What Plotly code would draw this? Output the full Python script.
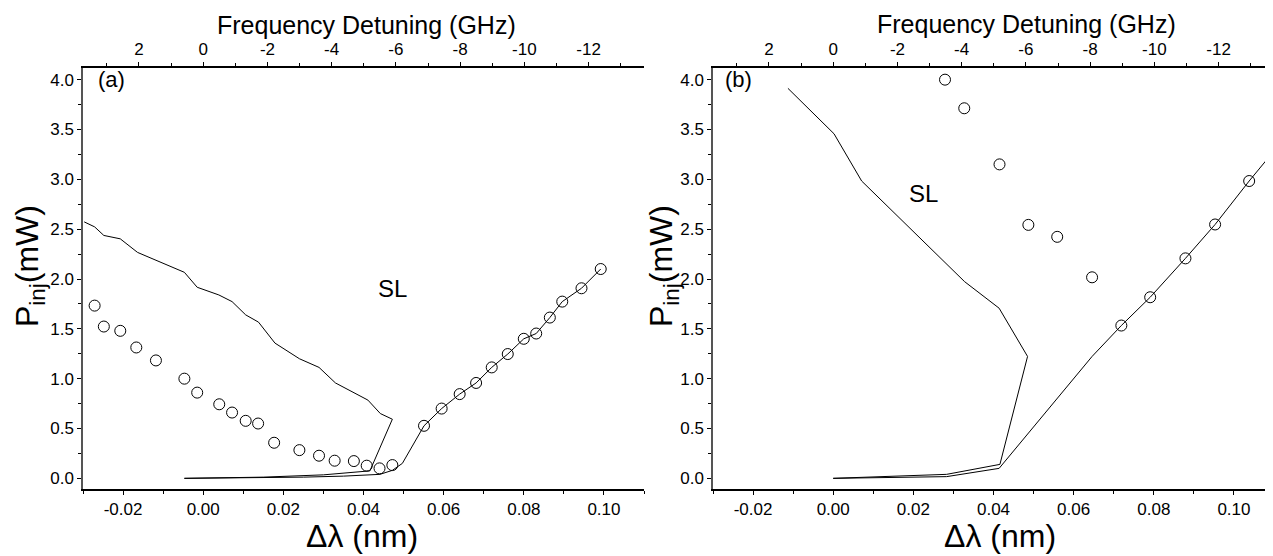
import plotly.graph_objects as go

# ---------------- data ----------------
# panel (a)
a_upper_x = [-0.0297, -0.0271, -0.0248, -0.0207, -0.0164, -0.0118, -0.0047, -0.0015, 0.0039, 0.0072,
             0.0106, 0.0138, 0.0179, 0.0240, 0.0289, 0.0330, 0.0411, 0.0442, 0.0472, 0.0416,
             0.0300, 0.0150, -0.0047]
a_upper_y = [2.573, 2.523, 2.437, 2.403, 2.267, 2.190, 2.067, 1.917, 1.840, 1.773,
             1.640, 1.567, 1.357, 1.200, 1.113, 0.957, 0.785, 0.650, 0.593, 0.075,
             0.035, 0.012, 0.0]
a_lower_x = [-0.0047, 0.010, 0.025, 0.035, 0.0441, 0.0472, 0.0497, 0.0551, 0.0595, 0.0640, 0.0681,
             0.0720, 0.0760, 0.0800, 0.0831, 0.0865, 0.0896, 0.0944, 0.0992]
a_lower_y = [0.0, 0.004, 0.012, 0.022, 0.040, 0.080, 0.150, 0.527, 0.700, 0.845, 0.957,
             1.113, 1.247, 1.400, 1.453, 1.613, 1.773, 1.907, 2.100]
a_circ1_x = [-0.0271, -0.0248, -0.0207, -0.0167, -0.0118, -0.0047, -0.0015, 0.0040, 0.0072, 0.0106,
             0.0137, 0.0177, 0.0240, 0.0289, 0.0328, 0.0376, 0.0408, 0.0440, 0.0472]
a_circ1_y = [1.733, 1.523, 1.480, 1.313, 1.183, 1.000, 0.860, 0.743, 0.660, 0.577,
             0.550, 0.357, 0.283, 0.227, 0.177, 0.173, 0.127, 0.100, 0.133]
a_circ2_x = [0.0551, 0.0595, 0.0640, 0.0681, 0.0720, 0.0760, 0.0800, 0.0831, 0.0865, 0.0896, 0.0944, 0.0992]
a_circ2_y = [0.527, 0.700, 0.845, 0.957, 1.113, 1.247, 1.400, 1.453, 1.613, 1.773, 1.907, 2.100]

# panel (b)
b_upper_x = [-0.0113, -0.0061, 0.0002, 0.0071, 0.0328, 0.0414, 0.0485, 0.0416, 0.0283, 0.0]
b_upper_y = [3.913, 3.707, 3.457, 2.983, 1.973, 1.707, 1.223, 0.140, 0.040, 0.0]
b_lower_x = [0.0, 0.0283, 0.0414, 0.0646, 0.0719, 0.0791, 0.0879, 0.0953, 0.1038, 0.1101]
b_lower_y = [0.0, 0.017, 0.100, 1.223, 1.533, 1.817, 2.207, 2.547, 2.983, 3.290]
b_circ_x = [0.0279, 0.0327, 0.0415, 0.0487, 0.0559, 0.0646, 0.0719, 0.0791, 0.0879, 0.0953, 0.1038]
b_circ_y = [4.000, 3.713, 3.150, 2.543, 2.423, 2.017, 1.533, 1.817, 2.207, 2.547, 2.983]

# ticks
x_tickvals = [-0.02, 0.00, 0.02, 0.04, 0.06, 0.08, 0.10]
x_ticktext = ["-0.02", "0.00", "0.02", "0.04", "0.06", "0.08", "0.10"]
y_tickvals = [0.0, 0.5, 1.0, 1.5, 2.0, 2.5, 3.0, 3.5, 4.0]
y_ticktext = ["0.0", "0.5", "1.0", "1.5", "2.0", "2.5", "3.0", "3.5", "4.0"]
f_tickvals = [2, 0, -2, -4, -6, -8, -10, -12]
f_ticktext = ["2", "0", "-2", "-4", "-6", "-8", "-10", "-12"]

# ---------------- scales ----------------
LAMBDA_NM = 1550.0
GHZ_PER_NM = 299792458.0 / (LAMBDA_NM ** 2)  # c/lambda^2 in GHz per nm
XR = [-0.03, 0.11]
YR = [-0.107, 4.117]
FR = [-XR[0] * GHZ_PER_NM, -XR[1] * GHZ_PER_NM]

W, H = 1273, 556
FONT = "Liberation Sans, Arial, sans-serif"
TICKFONT = dict(family=FONT, size=17, color="black")

line_style = dict(color="black", width=1)
mk = dict(symbol="circle-open", size=11, color="black", line=dict(width=1, color="black"))

fig = go.Figure()
fig.add_trace(go.Scatter(x=a_upper_x, y=a_upper_y, mode="lines", line=line_style, xaxis="x", yaxis="y"))
fig.add_trace(go.Scatter(x=a_lower_x, y=a_lower_y, mode="lines", line=line_style, xaxis="x", yaxis="y"))
fig.add_trace(go.Scatter(x=a_circ1_x, y=a_circ1_y, mode="markers", marker=mk, xaxis="x", yaxis="y"))
fig.add_trace(go.Scatter(x=a_circ2_x, y=a_circ2_y, mode="markers", marker=mk, xaxis="x", yaxis="y"))
fig.add_trace(go.Scatter(x=b_upper_x, y=b_upper_y, mode="lines", line=line_style, xaxis="x2", yaxis="y2"))
fig.add_trace(go.Scatter(x=b_lower_x, y=b_lower_y, mode="lines", line=line_style, xaxis="x2", yaxis="y2"))
fig.add_trace(go.Scatter(x=b_circ_x, y=b_circ_y, mode="markers", marker=mk, xaxis="x2", yaxis="y2"))
# carriers for the top frequency axes
fig.add_trace(go.Scatter(x=[], y=[], mode="none", xaxis="x3", yaxis="y"))
fig.add_trace(go.Scatter(x=[], y=[], mode="none", xaxis="x4", yaxis="y2"))

ydom = [(H - 481) / H, (H - 60) / H]
xdom1 = [75 / W, 636 / W]
xdom2 = [705 / W, 1266 / W]

def xax(dom, anchor):
    return dict(domain=dom, anchor=anchor, range=XR, autorange=False,
                tickmode="array", tickvals=x_tickvals, ticktext=x_ticktext,
                ticks="outside", ticklen=4, tickwidth=1, tickcolor="black",
                minor=dict(dtick=0.01, tick0=0, ticks="outside", ticklen=3, tickcolor="black", showgrid=False),
                showline=True, linecolor="black", linewidth=1.5, mirror=False,
                showgrid=False, zeroline=False, tickfont=TICKFONT)

def yax(anchor):
    return dict(domain=ydom, anchor=anchor, range=YR, autorange=False,
                tickmode="array", tickvals=y_tickvals, ticktext=y_ticktext,
                ticks="outside", ticklen=4, tickwidth=1, tickcolor="black",
                minor=dict(dtick=0.25, tick0=0, ticks="outside", ticklen=3, tickcolor="black", showgrid=False),
                showline=True, linecolor="#555555", linewidth=1.5, mirror=False,
                showgrid=False, zeroline=False, tickfont=TICKFONT)

def fax(over, anchor):
    return dict(overlaying=over, anchor=anchor, side="top", range=FR, autorange=False,
                tickmode="array", tickvals=f_tickvals, ticktext=f_ticktext,
                ticks="outside", ticklen=4, tickwidth=1, tickcolor="black",
                minor=dict(dtick=1, tick0=0, ticks="outside", ticklen=3, tickcolor="black", showgrid=False),
                showline=True, linecolor="black", linewidth=1.5,
                showgrid=False, zeroline=False, tickfont=TICKFONT)

fig.update_layout(
    width=W, height=H, margin=dict(l=0, r=0, t=0, b=0),
    paper_bgcolor="white", plot_bgcolor="white", showlegend=False,
    xaxis=xax(xdom1, "y"), yaxis=yax("x"),
    xaxis2=xax(xdom2, "y2"), yaxis2=yax("x2"),
    xaxis3=fax("x", "y"), xaxis4=fax("x2", "y2"),
)

ann = []
def pa(text, x, y, size, angle=0):
    ann.append(dict(text=text, xref="paper", yref="paper", x=x / W, y=1 - y / H,
                    xanchor="center", yanchor="middle", showarrow=False, textangle=angle,
                    font=dict(family=FONT, size=size, color="black")))

pa("Frequency Detuning (GHz)", 358, 17, 25)
pa("Frequency Detuning (GHz)", 1018, 16, 25)
pa("\u0394\u03bb (nm)", 354, 528, 32)
pa("\u0394\u03bb (nm)", 992, 528, 32)
pa("P<sub>inj</sub>(mW)", 21, 258, 32, -90)
pa("P<sub>inj</sub>(mW)", 655, 258, 32, -90)

def da(text, x, y, xr, yr, size, anchor="center"):
    ann.append(dict(text=text, xref=xr, yref=yr, x=x, y=y, xanchor=anchor, yanchor="middle",
                    showarrow=False, font=dict(family=FONT, size=size, color="black")))

da("(a)", -0.0268, 4.0, "x", "y", 22, "left")
da("(b)", -0.0275, 4.0, "x2", "y2", 22, "left")
da("SL", 0.0472, 1.907, "x", "y", 24)
da("SL", 0.0225, 2.857, "x2", "y2", 24)

fig.update_layout(annotations=ann)
fig.write_html("out.html")
